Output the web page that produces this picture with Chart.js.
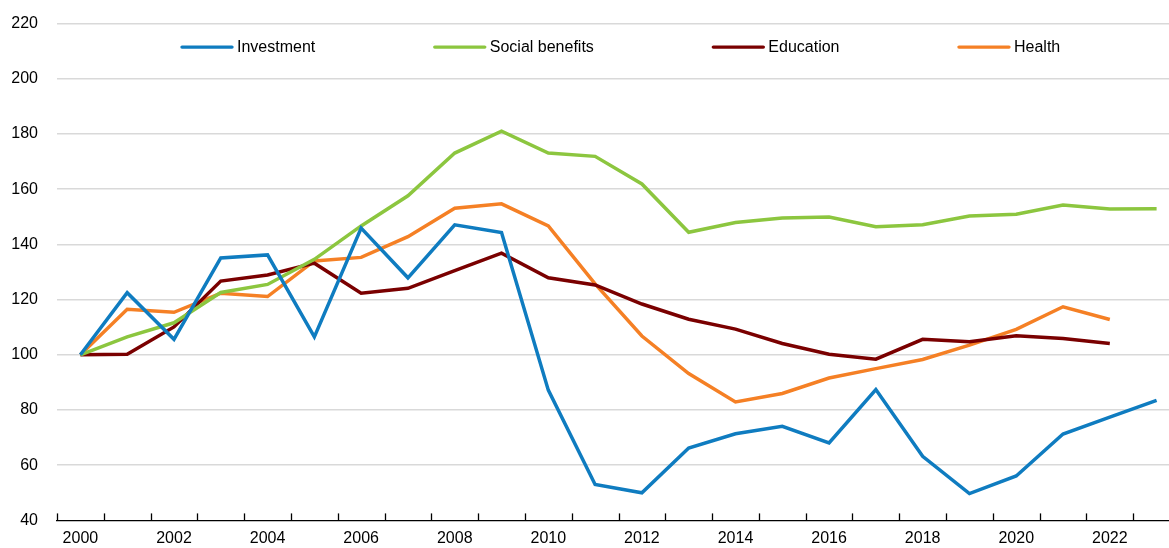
<!DOCTYPE html>
<html>
<head>
<meta charset="utf-8">
<script src="https://cdn.jsdelivr.net/npm/chart.js@4/dist/chart.umd.min.js"></script>
<style>
  html, body { margin: 0; padding: 0; overflow: hidden; background: #fff; width: 1169px; height: 548px; }
  #wrap { position: absolute; left: 0; top: -5px; width: 1180px; height: 554px; }
</style>
</head>
<body>
<div id="wrap"><canvas id="c" width="1180" height="554"></canvas></div>
<script>
const years = ['2000','2001','2002','2003','2004','2005','2006','2007','2008','2009','2010','2011',
               '2012','2013','2014','2015','2016','2017','2018','2019','2020','2021','2022','2023'];
const investment = [100, 122.5, 105.6, 135.1, 136.2, 106.5, 145.9, 127.9, 147.1, 144.3, 87.2, 53.0,
                    50.0, 66.2, 71.4, 74.1, 68.1, 87.4, 63.2, 49.7, 56.1, 71.3, 77.4, 83.5];
const socialBenefits = [100, 106.5, 111.6, 122.6, 125.5, 134.6, 146.7, 157.6, 173.1, 181.0, 173.1, 171.9,
                        161.9, 144.4, 147.9, 149.6, 149.9, 146.4, 147.1, 150.3, 150.9, 154.3, 152.8, 152.9];
const education = [100, 100.2, 110.1, 126.7, 128.9, 133.2, 122.3, 124.1, 130.5, 136.8, 127.9, 125.3,
                   118.4, 112.9, 109.3, 104.1, 100.2, 98.4, 105.6, 104.7, 106.9, 105.9, 104.1, null];
const health = [100, 116.5, 115.4, 122.3, 121.1, 134.0, 135.3, 142.8, 153.1, 154.7, 146.7, 125.7,
                106.8, 93.2, 82.9, 86.0, 91.6, 95.0, 98.3, 103.5, 109.2, 117.4, 112.8, null];
const seriesNames = ['Investment', 'Social benefits', 'Education', 'Health'];
const seriesColors = ['#0f7cc0', '#8cc63f', '#7a0000', '#f58025'];
const yTicks = [40, 60, 80, 100, 120, 140, 160, 180, 200, 220];

const FONT = '"Liberation Sans", Arial, sans-serif';

const tickMarks = {
  id: 'tickMarks',
  afterDatasetsDraw(chart) {
    const xs = chart.scales.x, ctx = chart.ctx;
    const yb = chart.chartArea.bottom;
    ctx.save();
    ctx.strokeStyle = '#000';
    ctx.lineWidth = 1.3;
    for (let i = 0; i <= years.length; i++) {
      const x = Math.round(xs.getPixelForValue(i - 0.5)) + 0.5;
      ctx.beginPath();
      ctx.moveTo(x, yb - 7);
      ctx.lineTo(x, yb);
      ctx.stroke();
    }
    ctx.restore();
  }
};

const innerLegend = {
  id: 'innerLegend',
  afterDraw(chart) {
    const ctx = chart.ctx;
    const area = chart.chartArea;
    ctx.save();
    ctx.font = '16px ' + FONT;
    ctx.textBaseline = 'middle';
    const y = area.top + 23.5;
    let x = area.left + 125;
    const boxW = 50, gap = 5, pad = 119.5;
    chart.data.datasets.forEach(ds => {
      ctx.strokeStyle = ds.borderColor;
      ctx.lineWidth = 3.4;
      ctx.lineCap = 'round';
      ctx.beginPath();
      ctx.moveTo(x, y);
      ctx.lineTo(x + boxW, y);
      ctx.stroke();
      ctx.fillStyle = '#000';
      ctx.fillText(ds.label, x + boxW + gap, y);
      x += boxW + gap + ctx.measureText(ds.label).width + pad;
    });
    ctx.restore();
  }
};

const datasets = [investment, socialBenefits, education, health].map((d, i) => ({
  label: seriesNames[i],
  data: d,
  borderColor: seriesColors[i],
  backgroundColor: seriesColors[i],
  borderWidth: 3.5,
  pointRadius: 0,
  pointHoverRadius: 0,
  tension: 0,
  spanGaps: false
}));

new Chart(document.getElementById('c'), {
  type: 'line',
  data: { labels: years, datasets },
  options: {
    responsive: false,
    animation: false,
    devicePixelRatio: 1,
    layout: { padding: { top: 15, left: 0, right: 0, bottom: 0 } },
    plugins: { legend: { display: false }, tooltip: { enabled: false } },
    scales: {
      x: {
        type: 'category',
        offset: true,
        afterFit: s => { s.height = 28; },
        grid: { display: true, offset: true, drawOnChartArea: false, drawTicks: false },
        border: { display: true, color: '#000', width: 1.3 },
        ticks: {
          autoSkip: false, maxRotation: 0, padding: 9,
          color: '#000', font: { family: FONT, size: 16 },
          callback: (v, i) => (i % 2 === 0 ? years[i] : '')
        }
      },
      y: {
        min: 40, max: 220,
        afterFit: s => { s.width = 57; },
        afterBuildTicks: s => { s.ticks = yTicks.map(v => ({ value: v })); },
        grid: { color: ctx => (ctx.tick && ctx.tick.value === 40 ? 'rgba(0,0,0,0)' : '#d9d9d9'), lineWidth: 1.6, drawTicks: false },
        border: { display: false },
        ticks: { padding: 19, color: '#000', font: { family: FONT, size: 16 } }
      }
    }
  },
  plugins: [tickMarks, innerLegend]
});
</script>
</body>
</html>
